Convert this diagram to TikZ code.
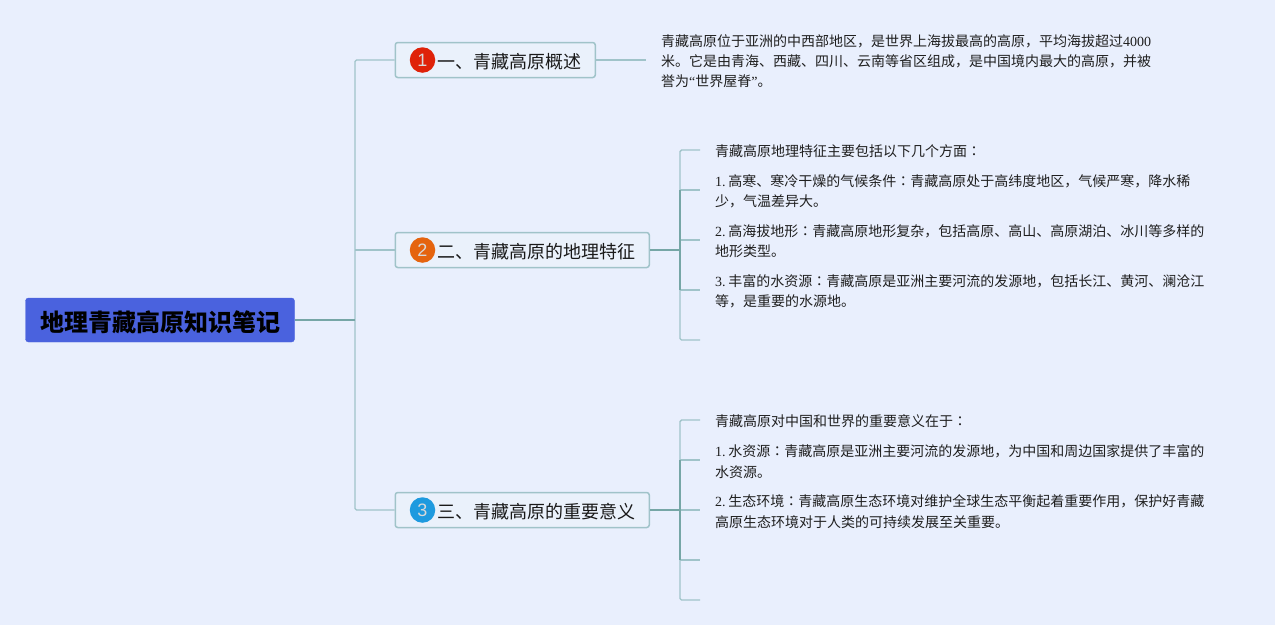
\documentclass[tikz,border=0pt]{standalone}
\usepackage{fontspec}
\setmainfont{Liberation Serif}
\newfontfamily\cjk{Noto Sans CJK SC}
\newfontfamily\cjkjp{Noto Sans CJK JP}
\newcommand\co{{\cjkjp ：}}
\newcommand\la[1]{{\rmfamily #1}}
\newcommand\nm[1]{{\rmfamily #1.}\kern2.7pt}
\definecolor{bgc}{HTML}{E9EFFD}
\definecolor{lite}{HTML}{A0C3C9}
\definecolor{dark}{HTML}{76A6A6}
\definecolor{rootc}{HTML}{4A62DE}
\definecolor{boxc}{HTML}{EAF1FB}
\definecolor{one}{HTML}{DF2209}
\definecolor{two}{HTML}{E5640F}
\definecolor{three}{HTML}{1E9ADF}
\tikzset{
  rootbox/.style={draw=rootc,fill=rootc,rounded corners=3pt,minimum width=269pt,minimum height=44pt,inner sep=0pt},
  roottext/.style={font=\fontsize{24}{28}\cjk\bfseries,text=black,inner sep=0pt},
  branchbox/.style={draw=lite,line width=1.5pt,fill=boxc,rounded corners=2.5pt,minimum height=35pt,inner sep=0pt,anchor=west},
  btext/.style={font=\fontsize{18}{22}\cjk,text=black!90,inner sep=0pt,anchor=west},
  badge/.style={circle,minimum size=25.5pt,inner sep=0pt,font=\fontsize{18}{18}\fontspec{Liberation Sans},text=white!85!black},
  body/.style={font=\fontsize{14}{20.3}\cjk,text=black!88,align=left,inner sep=0pt,anchor=west},
  litel/.style={draw=lite,line width=1.4pt,rounded corners=1.5pt},
  darkl/.style={draw=dark,line width=1.6pt}
}
\begin{document}
\begin{tikzpicture}[x=1pt,y=-1pt]
\useasboundingbox (0,0) rectangle (1275,625);
\fill[bgc] (0,0) rectangle (1275,625);

% nodes
\node[rootbox] (root) at (160,320) {};
\node[roottext] (rt) at (160.5,322) {地理青藏高原知识笔记};
\node[branchbox,minimum width=200pt] (b1) at (394.5,60) {};
\node[branchbox,minimum width=254pt] (b2) at (394.5,250) {};
\node[branchbox,minimum width=254pt] (b3) at (394.5,510) {};
\node[badge,fill=one] (n1) at (422.5,60) {1};
\node[badge,fill=two] (n2) at (422.5,250) {2};
\node[badge,fill=three] (n3) at (422.5,510) {3};
\node[btext] (t1) at (437,61.5) {一、青藏高原概述};
\node[btext] (t2) at (437,251.5) {二、青藏高原的地理特征};
\node[btext] (t3) at (437,511.5) {三、青藏高原的重要意义};

% body text
\node[body] (d1) at (661,61) {青藏高原位于亚洲的中西部地区，是世界上海拔最高的高原，平均海拔超过\la{4000}\\米。它是由青海、西藏、四川、云南等省区组成，是中国境内最大的高原，并被\\誉为\la{“}世界屋脊\la{”}。};
\node[body] (p0) at (715,151) {青藏高原地理特征主要包括以下几个方面\co};
\node[body] (p1) at (715,191.5) {\nm{1}高寒、寒冷干燥的气候条件\co 青藏高原处于高纬度地区，气候严寒，降水稀\\少，气温差异大。};
\node[body] (p2) at (715,241.5) {\nm{2}高海拔地形\co 青藏高原地形复杂，包括高原、高山、高原湖泊、冰川等多样的\\地形类型。};
\node[body] (p3) at (715,291.5) {\nm{3}丰富的水资源\co 青藏高原是亚洲主要河流的发源地，包括长江、黄河、澜沧江\\等，是重要的水源地。};
\node[body] (q0) at (715,421) {青藏高原对中国和世界的重要意义在于\co};
\node[body] (q1) at (715,461.5) {\nm{1}水资源\co 青藏高原是亚洲主要河流的发源地，为中国和周边国家提供了丰富的\\水资源。};
\node[body] (q2) at (715,511.5) {\nm{2}生态环境\co 青藏高原生态环境对维护全球生态平衡起着重要作用，保护好青藏\\高原生态环境对于人类的可持续发展至关重要。};

% junctions and free ends
\coordinate (j0) at (355,320);
\coordinate (e1) at (646,60);
\coordinate (j2) at (680,250);
\coordinate (j3) at (680,510);
\coordinate (a0) at (700,150);
\coordinate (a1) at (700,190);
\coordinate (a2) at (700,240);
\coordinate (a3) at (700,290);
\coordinate (a4) at (700,340);
\coordinate (c0) at (700,420);
\coordinate (c1) at (700,460);
\coordinate (c2) at (700,510);
\coordinate (c3) at (700,560);
\coordinate (c4) at (700,600);

% connectors
\draw[litel] (j0) |- (b1.west);
\draw[litel] (j0) |- (b3.west);
\draw[litel] (b1.east) -- (e1);
\draw[litel] (j2) |- (a0);
\draw[litel] (j2) |- (a4);
\draw[litel] (j2 |- a1) -- (a1);
\draw[litel] (j2 |- a2) -- (a2);
\draw[litel] (j2 |- a3) -- (a3);
\draw[litel] (j3) |- (c0);
\draw[litel] (j3) |- (c4);
\draw[litel] (j3 |- c1) -- (c1);
\draw[litel] (j3 |- c2) -- (c2);
\draw[litel] (j3 |- c3) -- (c3);
\draw[darkl] (j2 |- a1) -- (j2 |- a3);
\draw[darkl] (j3 |- c1) -- (j3 |- c3);
\draw[darkl] (root.east) -- (j0);
\draw[litel] (j0 |- b2.west) -- (b2.west);
\draw[darkl] (b2.east) -- (j2);
\draw[darkl] (b3.east) -- (j3);
\end{tikzpicture}
\end{document}
